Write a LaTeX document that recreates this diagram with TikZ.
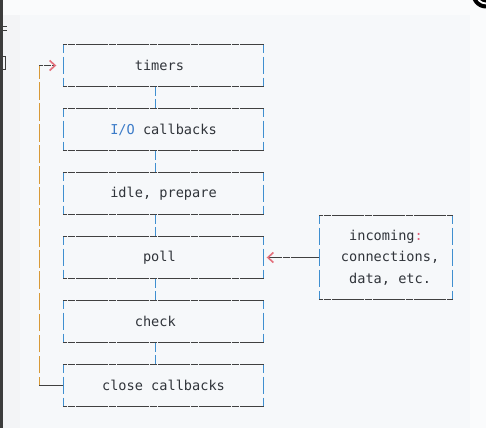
\documentclass[tikz,border=0pt]{standalone}
\usepackage{fontspec}
\newfontfamily\codefont{DejaVu Sans Mono}
\usetikzlibrary{arrows.meta}

\definecolor{pagebg}{HTML}{FAFBFC}
\definecolor{codebg}{HTML}{F6F8FA}
\definecolor{gutter}{HTML}{F3F4F6}
\definecolor{strip}{HTML}{3C3C3C}
\definecolor{rulegray}{HTML}{404040}
\definecolor{sideblue}{HTML}{3F8FD0}
\definecolor{looporange}{HTML}{D89A38}
\definecolor{ink}{HTML}{30343A}
\definecolor{kw}{HTML}{3B7BC8}
\definecolor{punct}{HTML}{E0607A}
\definecolor{chev}{HTML}{E4707C}

\tikzset{
  box/.style={minimum width=200pt, minimum height=42pt, inner sep=0pt,
    font=\codefont\fontsize{13.6}{21.33}\selectfont, text=ink},
  hrule/.style={draw=rulegray, line width=1.1pt,
    dash pattern=on 7.8pt off 0.4pt, dash phase=3.9pt},
  vrule/.style={draw=sideblue, line width=1.2pt,
    dash pattern=on 17.7pt off 3.33pt, dash phase=8.83pt},
  looprule/.style={vrule, draw=looporange},
  chevtip/.style={-{Straight Barb[color=chev, length=5.5pt, width=10pt, line width=1.6pt]}}
}

\begin{document}
\begin{tikzpicture}[x=1pt, y=-1pt]
  % page and code block backgrounds
  \useasboundingbox (0,0) rectangle (486,428);
  \fill[pagebg] (0,0) rectangle (486,428);
  \fill[gutter] (3,15) rectangle (20,428);
  \fill[codebg] (20,15) rectangle (470,428);
  \fill[strip] (0,0) rectangle (3,428);
  \fill[strip] (3,26) rectangle (7,27.2);
  \fill[strip] (3,30) rectangle (7,31.2);
  \fill[strip] (3,56) rectangle (6,57);
  \fill[strip] (5,56) rectangle (6,70);
  \fill[strip] (3,69) rectangle (6,70);

  % round badge in the corner
  \fill[black] (486,-6) circle (14.5);
  \draw[white, line width=1.8pt] (486,-6) circle (9.5);

  % phases of the loop
  \node[box] (timers) at (163.5,65.5)  {\hspace*{-8.2pt}timers};
  \node[box] (io)     at (163.5,129.5) {{\color{kw}I/O} callbacks};
  \node[box] (idle)   at (163.5,193.5) {idle, prepare};
  \node[box] (poll)   at (163.5,257.5) {\hspace*{-8.2pt}poll};
  \node[box] (check)  at (163.5,321.5) {\hspace*{-16.4pt}check};
  \node[box] (close)  at (163.5,385.5) {close callbacks};

  \node[box, minimum width=133pt, minimum height=84pt, align=left]
    (incoming) at (386,257.5)
    {\hspace*{16.4pt}incoming{\color{punct}:}\\
     \hspace*{8.2pt}connections,\\
     \hspace*{16.4pt}data, etc.};

  % box borders: blue verticals under dark horizontals
  \foreach \n in {timers,io,idle,poll,check,close,incoming}{
    \draw[vrule] (\n.north west) -- (\n.south west);
    \draw[vrule] (\n.north east) -- (\n.south east);
    \draw[hrule] (\n.north west) -- (\n.north east);
    \draw[hrule] (\n.south west) -- (\n.south east);
  }

  % links between consecutive phases
  \foreach \a/\b in {timers/io,io/idle,idle/poll,poll/check,check/close}{
    \draw[vrule] ([xshift=-8pt]\a.south) -- ([xshift=-8pt]\b.north);
  }

  % incoming events feed the poll phase
  \draw[hrule, chevtip, shorten >=3pt] (incoming.west) -- (poll.east);

  % loop back from close callbacks to timers
  \coordinate (lb) at ([xshift=-24pt]close.west);
  \coordinate (lt) at (lb |- timers.west);
  \draw[looprule] (lb) -- (lt);
  \draw[hrule] (close.west) -- (lb);
  \draw[hrule, chevtip, shorten >=7pt] (lt) -- (timers.west);
\end{tikzpicture}
\end{document}
